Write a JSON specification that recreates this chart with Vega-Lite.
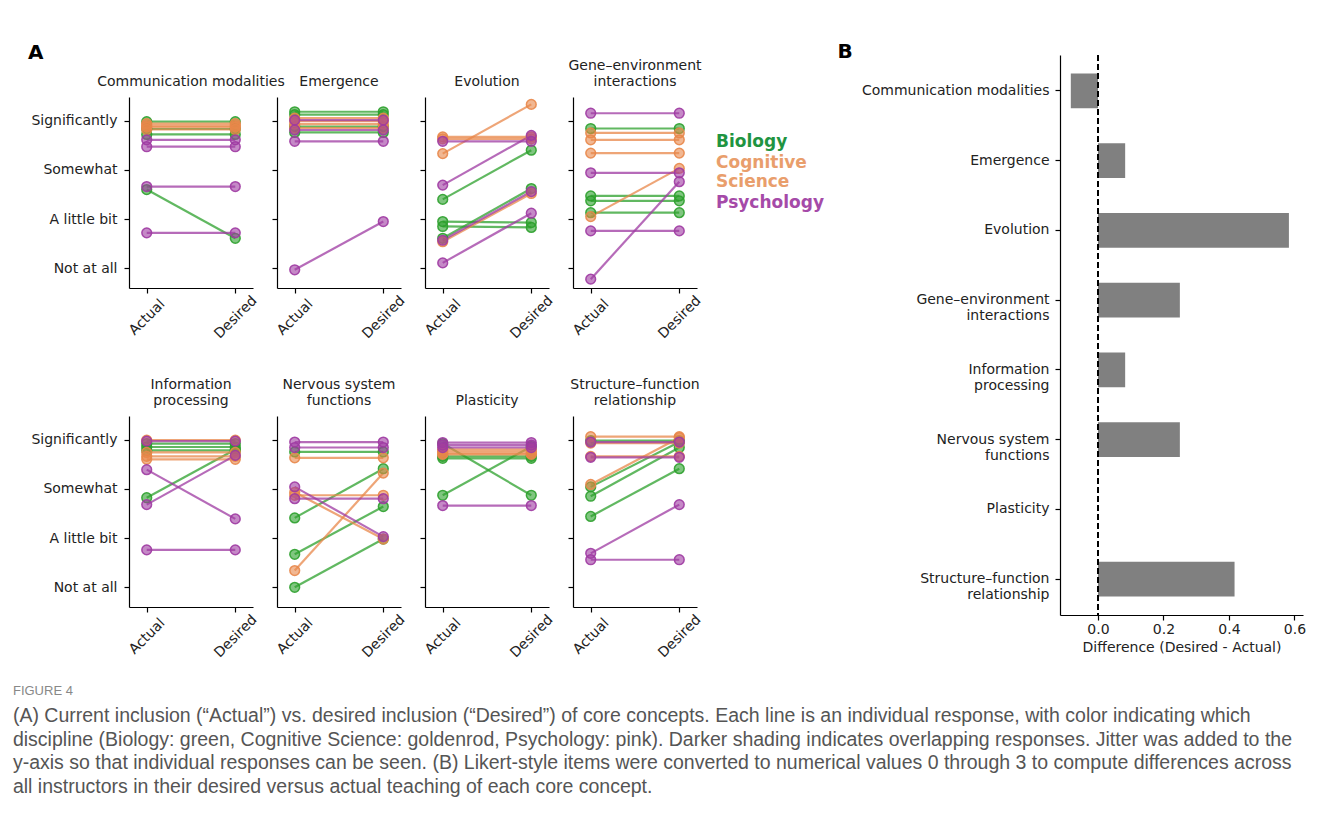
{
  "$schema": "https://vega.github.io/schema/vega-lite/v6.json",
  "padding": {"left": 12, "top": 42, "right": 5, "bottom": 5},
  "background": "white",
  "config": {
    "view": {"stroke": null},
    "font": "DejaVu Sans",
    "axis": {"grid": false, "domainColor": "#000", "domainWidth": 1.2, "tickColor": "#000", "tickWidth": 1.2, "tickSize": 5, "labelColor": "#222", "labelFontSize": 14, "labelFont": "DejaVu Sans", "titleFont": "DejaVu Sans", "titleFontSize": 14, "titleFontWeight": "normal", "titleColor": "#222"},
    "title": {"font": "DejaVu Sans", "fontSize": 14, "fontWeight": "normal", "color": "#222", "offset": 8, "lineHeight": 16}
  },
  "datasets": {
    "resp": [
      {"c": "Communication modalities", "d": "Biology", "id": 1, "Actual": 2.98, "Desired": 2.98},
      {"c": "Communication modalities", "d": "Biology", "id": 2, "Actual": 2.83, "Desired": 2.83},
      {"c": "Communication modalities", "d": "Biology", "id": 3, "Actual": 2.72, "Desired": 2.72},
      {"c": "Communication modalities", "d": "Biology", "id": 4, "Actual": 1.60, "Desired": 0.61},
      {"c": "Communication modalities", "d": "Cognitive Science", "id": 5, "Actual": 2.94, "Desired": 2.94},
      {"c": "Communication modalities", "d": "Cognitive Science", "id": 6, "Actual": 2.90, "Desired": 2.90},
      {"c": "Communication modalities", "d": "Cognitive Science", "id": 7, "Actual": 2.87, "Desired": 2.87},
      {"c": "Communication modalities", "d": "Cognitive Science", "id": 8, "Actual": 2.82, "Desired": 2.82},
      {"c": "Communication modalities", "d": "Psychology", "id": 9, "Actual": 2.61, "Desired": 2.61},
      {"c": "Communication modalities", "d": "Psychology", "id": 10, "Actual": 2.47, "Desired": 2.47},
      {"c": "Communication modalities", "d": "Psychology", "id": 11, "Actual": 1.66, "Desired": 1.66},
      {"c": "Communication modalities", "d": "Psychology", "id": 12, "Actual": 0.72, "Desired": 0.72},

      {"c": "Emergence", "d": "Biology", "id": 1, "Actual": 3.18, "Desired": 3.18},
      {"c": "Emergence", "d": "Biology", "id": 2, "Actual": 3.12, "Desired": 3.12},
      {"c": "Emergence", "d": "Biology", "id": 3, "Actual": 2.88, "Desired": 2.88},
      {"c": "Emergence", "d": "Biology", "id": 4, "Actual": 2.76, "Desired": 2.76},
      {"c": "Emergence", "d": "Cognitive Science", "id": 5, "Actual": 3.05, "Desired": 3.05},
      {"c": "Emergence", "d": "Cognitive Science", "id": 6, "Actual": 2.99, "Desired": 2.99},
      {"c": "Emergence", "d": "Cognitive Science", "id": 7, "Actual": 2.93, "Desired": 2.93},
      {"c": "Emergence", "d": "Cognitive Science", "id": 8, "Actual": 2.85, "Desired": 2.85},
      {"c": "Emergence", "d": "Psychology", "id": 9, "Actual": 3.01, "Desired": 3.01},
      {"c": "Emergence", "d": "Psychology", "id": 10, "Actual": 2.81, "Desired": 2.81},
      {"c": "Emergence", "d": "Psychology", "id": 11, "Actual": 2.58, "Desired": 2.58},
      {"c": "Emergence", "d": "Psychology", "id": 12, "Actual": -0.03, "Desired": 0.95},

      {"c": "Evolution", "d": "Biology", "id": 1, "Actual": 1.40, "Desired": 2.40},
      {"c": "Evolution", "d": "Biology", "id": 2, "Actual": 0.95, "Desired": 0.93},
      {"c": "Evolution", "d": "Biology", "id": 3, "Actual": 0.85, "Desired": 0.83},
      {"c": "Evolution", "d": "Biology", "id": 4, "Actual": 0.61, "Desired": 1.62},
      {"c": "Evolution", "d": "Cognitive Science", "id": 5, "Actual": 2.33, "Desired": 3.33},
      {"c": "Evolution", "d": "Cognitive Science", "id": 6, "Actual": 2.67, "Desired": 2.67},
      {"c": "Evolution", "d": "Cognitive Science", "id": 7, "Actual": 2.63, "Desired": 2.63},
      {"c": "Evolution", "d": "Cognitive Science", "id": 8, "Actual": 0.54, "Desired": 1.52},
      {"c": "Evolution", "d": "Psychology", "id": 9, "Actual": 2.58, "Desired": 2.58},
      {"c": "Evolution", "d": "Psychology", "id": 10, "Actual": 1.69, "Desired": 2.70},
      {"c": "Evolution", "d": "Psychology", "id": 11, "Actual": 0.57, "Desired": 1.56},
      {"c": "Evolution", "d": "Psychology", "id": 12, "Actual": 0.11, "Desired": 1.12},

      {"c": "Gene–environment interactions", "d": "Biology", "id": 1, "Actual": 2.84, "Desired": 2.84},
      {"c": "Gene–environment interactions", "d": "Biology", "id": 2, "Actual": 1.47, "Desired": 1.47},
      {"c": "Gene–environment interactions", "d": "Biology", "id": 3, "Actual": 1.37, "Desired": 1.37},
      {"c": "Gene–environment interactions", "d": "Biology", "id": 4, "Actual": 1.13, "Desired": 1.13},
      {"c": "Gene–environment interactions", "d": "Cognitive Science", "id": 5, "Actual": 2.75, "Desired": 2.75},
      {"c": "Gene–environment interactions", "d": "Cognitive Science", "id": 6, "Actual": 2.61, "Desired": 2.61},
      {"c": "Gene–environment interactions", "d": "Cognitive Science", "id": 7, "Actual": 2.34, "Desired": 2.34},
      {"c": "Gene–environment interactions", "d": "Cognitive Science", "id": 8, "Actual": 1.05, "Desired": 2.03},
      {"c": "Gene–environment interactions", "d": "Psychology", "id": 9, "Actual": 3.15, "Desired": 3.15},
      {"c": "Gene–environment interactions", "d": "Psychology", "id": 10, "Actual": 1.94, "Desired": 1.94},
      {"c": "Gene–environment interactions", "d": "Psychology", "id": 11, "Actual": 0.76, "Desired": 0.76},
      {"c": "Gene–environment interactions", "d": "Psychology", "id": 12, "Actual": -0.22, "Desired": 1.76},

      {"c": "Information processing", "d": "Biology", "id": 1, "Actual": 2.92, "Desired": 2.92},
      {"c": "Information processing", "d": "Biology", "id": 2, "Actual": 2.85, "Desired": 2.85},
      {"c": "Information processing", "d": "Biology", "id": 3, "Actual": 2.78, "Desired": 2.78},
      {"c": "Information processing", "d": "Biology", "id": 4, "Actual": 1.82, "Desired": 2.80},
      {"c": "Information processing", "d": "Cognitive Science", "id": 5, "Actual": 2.99, "Desired": 2.99},
      {"c": "Information processing", "d": "Cognitive Science", "id": 6, "Actual": 2.74, "Desired": 2.74},
      {"c": "Information processing", "d": "Cognitive Science", "id": 7, "Actual": 2.66, "Desired": 2.66},
      {"c": "Information processing", "d": "Cognitive Science", "id": 8, "Actual": 2.60, "Desired": 2.60},
      {"c": "Information processing", "d": "Psychology", "id": 9, "Actual": 2.97, "Desired": 2.97},
      {"c": "Information processing", "d": "Psychology", "id": 10, "Actual": 2.39, "Desired": 1.39},
      {"c": "Information processing", "d": "Psychology", "id": 11, "Actual": 1.68, "Desired": 2.68},
      {"c": "Information processing", "d": "Psychology", "id": 12, "Actual": 0.76, "Desired": 0.76},

      {"c": "Nervous system functions", "d": "Biology", "id": 1, "Actual": 2.75, "Desired": 2.75},
      {"c": "Nervous system functions", "d": "Biology", "id": 2, "Actual": 1.41, "Desired": 2.41},
      {"c": "Nervous system functions", "d": "Biology", "id": 3, "Actual": 0.67, "Desired": 1.64},
      {"c": "Nervous system functions", "d": "Biology", "id": 4, "Actual": 0.00, "Desired": 0.98},
      {"c": "Nervous system functions", "d": "Cognitive Science", "id": 5, "Actual": 2.63, "Desired": 2.63},
      {"c": "Nervous system functions", "d": "Cognitive Science", "id": 6, "Actual": 1.93, "Desired": 0.98},
      {"c": "Nervous system functions", "d": "Cognitive Science", "id": 7, "Actual": 1.87, "Desired": 1.87},
      {"c": "Nervous system functions", "d": "Cognitive Science", "id": 8, "Actual": 0.34, "Desired": 2.32},
      {"c": "Nervous system functions", "d": "Psychology", "id": 9, "Actual": 2.95, "Desired": 2.95},
      {"c": "Nervous system functions", "d": "Psychology", "id": 10, "Actual": 2.84, "Desired": 2.84},
      {"c": "Nervous system functions", "d": "Psychology", "id": 11, "Actual": 2.04, "Desired": 1.03},
      {"c": "Nervous system functions", "d": "Psychology", "id": 12, "Actual": 1.80, "Desired": 1.80},

      {"c": "Plasticity", "d": "Biology", "id": 1, "Actual": 2.92, "Desired": 1.87},
      {"c": "Plasticity", "d": "Biology", "id": 2, "Actual": 1.87, "Desired": 2.86},
      {"c": "Plasticity", "d": "Biology", "id": 3, "Actual": 2.62, "Desired": 2.62},
      {"c": "Plasticity", "d": "Biology", "id": 4, "Actual": 2.66, "Desired": 2.66},
      {"c": "Plasticity", "d": "Cognitive Science", "id": 5, "Actual": 2.80, "Desired": 2.80},
      {"c": "Plasticity", "d": "Cognitive Science", "id": 6, "Actual": 2.76, "Desired": 2.76},
      {"c": "Plasticity", "d": "Cognitive Science", "id": 7, "Actual": 2.72, "Desired": 2.72},
      {"c": "Plasticity", "d": "Cognitive Science", "id": 8, "Actual": 2.70, "Desired": 2.70},
      {"c": "Plasticity", "d": "Psychology", "id": 9, "Actual": 2.94, "Desired": 2.94},
      {"c": "Plasticity", "d": "Psychology", "id": 10, "Actual": 2.89, "Desired": 2.89},
      {"c": "Plasticity", "d": "Psychology", "id": 11, "Actual": 2.84, "Desired": 2.84},
      {"c": "Plasticity", "d": "Psychology", "id": 12, "Actual": 1.66, "Desired": 1.66},

      {"c": "Structure–function relationship", "d": "Biology", "id": 1, "Actual": 2.98, "Desired": 2.98},
      {"c": "Structure–function relationship", "d": "Biology", "id": 2, "Actual": 2.04, "Desired": 2.95},
      {"c": "Structure–function relationship", "d": "Biology", "id": 3, "Actual": 1.85, "Desired": 2.84},
      {"c": "Structure–function relationship", "d": "Biology", "id": 4, "Actual": 1.44, "Desired": 2.41},
      {"c": "Structure–function relationship", "d": "Cognitive Science", "id": 5, "Actual": 3.06, "Desired": 3.06},
      {"c": "Structure–function relationship", "d": "Cognitive Science", "id": 6, "Actual": 2.93, "Desired": 2.93},
      {"c": "Structure–function relationship", "d": "Cognitive Science", "id": 7, "Actual": 2.66, "Desired": 2.66},
      {"c": "Structure–function relationship", "d": "Cognitive Science", "id": 8, "Actual": 2.09, "Desired": 3.04},
      {"c": "Structure–function relationship", "d": "Psychology", "id": 9, "Actual": 2.95, "Desired": 2.95},
      {"c": "Structure–function relationship", "d": "Psychology", "id": 10, "Actual": 2.64, "Desired": 2.64},
      {"c": "Structure–function relationship", "d": "Psychology", "id": 11, "Actual": 0.69, "Desired": 1.68},
      {"c": "Structure–function relationship", "d": "Psychology", "id": 12, "Actual": 0.56, "Desired": 0.56}
    ],
    "diff": [
      {"c": "Communication modalities", "diff": -0.083},
      {"c": "Emergence", "diff": 0.083},
      {"c": "Evolution", "diff": 0.583},
      {"c": "Gene–environment interactions", "diff": 0.25},
      {"c": "Information processing", "diff": 0.083},
      {"c": "Nervous system functions", "diff": 0.25},
      {"c": "Plasticity", "diff": 0.0},
      {"c": "Structure–function relationship", "diff": 0.417}
    ]
  },
  "title": {
    "text": "FIGURE 4",
    "orient": "bottom",
    "anchor": "start",
    "frame": "bounds",
    "font": "Liberation Sans",
    "fontSize": 13,
    "fontWeight": "normal",
    "color": "#888",
    "offset": 25,
    "dx": -15,
    "subtitle": [
      "(A) Current inclusion (“Actual”) vs. desired inclusion (“Desired”) of core concepts. Each line is an individual response, with color indicating which",
      "discipline (Biology: green, Cognitive Science: goldenrod, Psychology: pink). Darker shading indicates overlapping responses. Jitter was added to the",
      "y-axis so that individual responses can be seen. (B) Likert-style items were converted to numerical values 0 through 3 to compute differences across",
      "all instructors in their desired versus actual teaching of each core concept."
    ],
    "subtitleFont": "Liberation Sans",
    "subtitleFontSize": 19.5,
    "subtitleColor": "#555",
    "subtitleLineHeight": 23.7,
    "subtitlePadding": 9
  },
  "spacing": 13,
  "hconcat": [
    {
      "title": {"text": "A", "anchor": "start", "frame": "bounds", "fontSize": 20, "fontWeight": "bold", "color": "#000", "offset": -8, "dx": -3},
      "spacing": 3,
      "vconcat": [
        {"width": 1, "height": 1, "data": {"values": []}, "mark": "point"},
        {
          "spacing": 37,
          "vconcat": [
            {
              "bounds": "flush",
              "spacing": 24,
              "resolve": {"legend": {"color": "independent", "stroke": "independent"}},
              "hconcat": [
                {
                  "width": 124, "height": 191,
                  "title": "Communication modalities",
                  "data": {"name": "resp"},
                  "transform": [{"filter": "datum.c == 'Communication modalities'"}, {"fold": ["Actual", "Desired"], "as": ["t", "v"]}],
                  "encoding": {
                    "x": {"field": "t", "type": "nominal", "scale": {"type": "point", "padding": 0.2, "domain": ["Actual", "Desired"]}, "axis": {"title": null, "labelAngle": -45, "labelAlign": "center", "labelBaseline": "middle", "labelPadding": 24}},
                    "y": {"field": "v", "type": "quantitative", "scale": {"domain": [-0.4, 3.48], "nice": false, "zero": false}, "axis": {"title": null, "values": [0, 1, 2, 3], "labelExpr": "['Not at all','A little bit','Somewhat','Significantly'][datum.value]", "labelPadding": 7}},
                    "color": {"field": "d", "type": "nominal", "scale": {"domain": ["Biology", "Cognitive Science", "Psychology"], "range": ["#2ca02c", "#e8874a", "#9e3aa2"]}, "legend": null},
                    "detail": {"field": "id", "type": "nominal"}
                  },
                  "layer": [
                    {"mark": {"type": "line", "strokeWidth": 2.2, "opacity": 0.75}},
                    {"mark": {"type": "circle", "size": 95, "fillOpacity": 0.6, "strokeOpacity": 0.9, "strokeWidth": 1.5}, "encoding": {"stroke": {"field": "d", "type": "nominal", "scale": {"domain": ["Biology", "Cognitive Science", "Psychology"], "range": ["#2ca02c", "#e8874a", "#9e3aa2"]}, "legend": null}}}
                  ]
                },
                {
                  "width": 124, "height": 191,
                  "title": "Emergence",
                  "data": {"name": "resp"},
                  "transform": [{"filter": "datum.c == 'Emergence'"}, {"fold": ["Actual", "Desired"], "as": ["t", "v"]}],
                  "encoding": {
                    "x": {"field": "t", "type": "nominal", "scale": {"type": "point", "padding": 0.2, "domain": ["Actual", "Desired"]}, "axis": {"title": null, "labelAngle": -45, "labelAlign": "center", "labelBaseline": "middle", "labelPadding": 24}},
                    "y": {"field": "v", "type": "quantitative", "scale": {"domain": [-0.4, 3.48], "nice": false, "zero": false}, "axis": {"title": null, "values": [0, 1, 2, 3], "labels": false}},
                    "color": {"field": "d", "type": "nominal", "scale": {"domain": ["Biology", "Cognitive Science", "Psychology"], "range": ["#2ca02c", "#e8874a", "#9e3aa2"]}, "legend": null},
                    "detail": {"field": "id", "type": "nominal"}
                  },
                  "layer": [
                    {"mark": {"type": "line", "strokeWidth": 2.2, "opacity": 0.75}},
                    {"mark": {"type": "circle", "size": 95, "fillOpacity": 0.6, "strokeOpacity": 0.9, "strokeWidth": 1.5}, "encoding": {"stroke": {"field": "d", "type": "nominal", "scale": {"domain": ["Biology", "Cognitive Science", "Psychology"], "range": ["#2ca02c", "#e8874a", "#9e3aa2"]}, "legend": null}}}
                  ]
                },
                {
                  "width": 124, "height": 191,
                  "title": "Evolution",
                  "data": {"name": "resp"},
                  "transform": [{"filter": "datum.c == 'Evolution'"}, {"fold": ["Actual", "Desired"], "as": ["t", "v"]}],
                  "encoding": {
                    "x": {"field": "t", "type": "nominal", "scale": {"type": "point", "padding": 0.2, "domain": ["Actual", "Desired"]}, "axis": {"title": null, "labelAngle": -45, "labelAlign": "center", "labelBaseline": "middle", "labelPadding": 24}},
                    "y": {"field": "v", "type": "quantitative", "scale": {"domain": [-0.4, 3.48], "nice": false, "zero": false}, "axis": {"title": null, "values": [0, 1, 2, 3], "labels": false}},
                    "color": {"field": "d", "type": "nominal", "scale": {"domain": ["Biology", "Cognitive Science", "Psychology"], "range": ["#2ca02c", "#e8874a", "#9e3aa2"]}, "legend": null},
                    "detail": {"field": "id", "type": "nominal"}
                  },
                  "layer": [
                    {"mark": {"type": "line", "strokeWidth": 2.2, "opacity": 0.75}},
                    {"mark": {"type": "circle", "size": 95, "fillOpacity": 0.6, "strokeOpacity": 0.9, "strokeWidth": 1.5}, "encoding": {"stroke": {"field": "d", "type": "nominal", "scale": {"domain": ["Biology", "Cognitive Science", "Psychology"], "range": ["#2ca02c", "#e8874a", "#9e3aa2"]}, "legend": null}}}
                  ]
                },
                {
                  "width": 124, "height": 191,
                  "title": {"text": ["Gene–environment", "interactions"]},
                  "data": {"name": "resp"},
                  "transform": [{"filter": "datum.c == 'Gene–environment interactions'"}, {"fold": ["Actual", "Desired"], "as": ["t", "v"]}],
                  "encoding": {
                    "x": {"field": "t", "type": "nominal", "scale": {"type": "point", "padding": 0.2, "domain": ["Actual", "Desired"]}, "axis": {"title": null, "labelAngle": -45, "labelAlign": "center", "labelBaseline": "middle", "labelPadding": 24}},
                    "y": {"field": "v", "type": "quantitative", "scale": {"domain": [-0.4, 3.48], "nice": false, "zero": false}, "axis": {"title": null, "values": [0, 1, 2, 3], "labels": false}},
                    "color": {"field": "d", "type": "nominal", "scale": {"domain": ["Biology", "Cognitive Science", "Psychology"], "range": ["#2ca02c", "#e8874a", "#9e3aa2"]},
                      "legend": {"title": " ", "titleFontSize": 10, "titlePadding": 26, "orient": "right", "offset": 2, "padding": 0, "symbolSize": 0, "symbolOpacity": 0, "symbolStrokeWidth": 0, "labelOffset": 0, "labelFontSize": 17, "labelFontWeight": "bold", "labelFont": "DejaVu Sans", "rowPadding": 3, "labelExpr": "datum.label == 'Cognitive Science' ? ['Cognitive', 'Science'] : datum.label",
                        "encode": {"labels": {"update": {"fill": {"signal": "datum.value == 'Biology' ? '#1f9441' : datum.value == 'Psychology' ? '#a54aa8' : '#e99e6c'"}}}}}},
                    "detail": {"field": "id", "type": "nominal"}
                  },
                  "layer": [
                    {"mark": {"type": "line", "strokeWidth": 2.2, "opacity": 0.75}},
                    {"mark": {"type": "circle", "size": 95, "fillOpacity": 0.6, "strokeOpacity": 0.9, "strokeWidth": 1.5}, "encoding": {"stroke": {"field": "d", "type": "nominal", "scale": {"domain": ["Biology", "Cognitive Science", "Psychology"], "range": ["#2ca02c", "#e8874a", "#9e3aa2"]}, "legend": null}}}
                  ]
                }
              ]
            },
            {
              "bounds": "flush",
              "spacing": 24,
              "hconcat": [
                {
                  "width": 124, "height": 191,
                  "title": {"text": ["Information", "processing"]},
                  "data": {"name": "resp"},
                  "transform": [{"filter": "datum.c == 'Information processing'"}, {"fold": ["Actual", "Desired"], "as": ["t", "v"]}],
                  "encoding": {
                    "x": {"field": "t", "type": "nominal", "scale": {"type": "point", "padding": 0.2, "domain": ["Actual", "Desired"]}, "axis": {"title": null, "labelAngle": -45, "labelAlign": "center", "labelBaseline": "middle", "labelPadding": 24}},
                    "y": {"field": "v", "type": "quantitative", "scale": {"domain": [-0.4, 3.48], "nice": false, "zero": false}, "axis": {"title": null, "values": [0, 1, 2, 3], "labelExpr": "['Not at all','A little bit','Somewhat','Significantly'][datum.value]", "labelPadding": 7}},
                    "color": {"field": "d", "type": "nominal", "scale": {"domain": ["Biology", "Cognitive Science", "Psychology"], "range": ["#2ca02c", "#e8874a", "#9e3aa2"]}, "legend": null},
                    "detail": {"field": "id", "type": "nominal"}
                  },
                  "layer": [
                    {"mark": {"type": "line", "strokeWidth": 2.2, "opacity": 0.75}},
                    {"mark": {"type": "circle", "size": 95, "fillOpacity": 0.6, "strokeOpacity": 0.9, "strokeWidth": 1.5}, "encoding": {"stroke": {"field": "d", "type": "nominal", "scale": {"domain": ["Biology", "Cognitive Science", "Psychology"], "range": ["#2ca02c", "#e8874a", "#9e3aa2"]}, "legend": null}}}
                  ]
                },
                {
                  "width": 124, "height": 191,
                  "title": {"text": ["Nervous system", "functions"]},
                  "data": {"name": "resp"},
                  "transform": [{"filter": "datum.c == 'Nervous system functions'"}, {"fold": ["Actual", "Desired"], "as": ["t", "v"]}],
                  "encoding": {
                    "x": {"field": "t", "type": "nominal", "scale": {"type": "point", "padding": 0.2, "domain": ["Actual", "Desired"]}, "axis": {"title": null, "labelAngle": -45, "labelAlign": "center", "labelBaseline": "middle", "labelPadding": 24}},
                    "y": {"field": "v", "type": "quantitative", "scale": {"domain": [-0.4, 3.48], "nice": false, "zero": false}, "axis": {"title": null, "values": [0, 1, 2, 3], "labels": false}},
                    "color": {"field": "d", "type": "nominal", "scale": {"domain": ["Biology", "Cognitive Science", "Psychology"], "range": ["#2ca02c", "#e8874a", "#9e3aa2"]}, "legend": null},
                    "detail": {"field": "id", "type": "nominal"}
                  },
                  "layer": [
                    {"mark": {"type": "line", "strokeWidth": 2.2, "opacity": 0.75}},
                    {"mark": {"type": "circle", "size": 95, "fillOpacity": 0.6, "strokeOpacity": 0.9, "strokeWidth": 1.5}, "encoding": {"stroke": {"field": "d", "type": "nominal", "scale": {"domain": ["Biology", "Cognitive Science", "Psychology"], "range": ["#2ca02c", "#e8874a", "#9e3aa2"]}, "legend": null}}}
                  ]
                },
                {
                  "width": 124, "height": 191,
                  "title": "Plasticity",
                  "data": {"name": "resp"},
                  "transform": [{"filter": "datum.c == 'Plasticity'"}, {"fold": ["Actual", "Desired"], "as": ["t", "v"]}],
                  "encoding": {
                    "x": {"field": "t", "type": "nominal", "scale": {"type": "point", "padding": 0.2, "domain": ["Actual", "Desired"]}, "axis": {"title": null, "labelAngle": -45, "labelAlign": "center", "labelBaseline": "middle", "labelPadding": 24}},
                    "y": {"field": "v", "type": "quantitative", "scale": {"domain": [-0.4, 3.48], "nice": false, "zero": false}, "axis": {"title": null, "values": [0, 1, 2, 3], "labels": false}},
                    "color": {"field": "d", "type": "nominal", "scale": {"domain": ["Biology", "Cognitive Science", "Psychology"], "range": ["#2ca02c", "#e8874a", "#9e3aa2"]}, "legend": null},
                    "detail": {"field": "id", "type": "nominal"}
                  },
                  "layer": [
                    {"mark": {"type": "line", "strokeWidth": 2.2, "opacity": 0.75}},
                    {"mark": {"type": "circle", "size": 95, "fillOpacity": 0.6, "strokeOpacity": 0.9, "strokeWidth": 1.5}, "encoding": {"stroke": {"field": "d", "type": "nominal", "scale": {"domain": ["Biology", "Cognitive Science", "Psychology"], "range": ["#2ca02c", "#e8874a", "#9e3aa2"]}, "legend": null}}}
                  ]
                },
                {
                  "width": 124, "height": 191,
                  "title": {"text": ["Structure–function", "relationship"]},
                  "data": {"name": "resp"},
                  "transform": [{"filter": "datum.c == 'Structure–function relationship'"}, {"fold": ["Actual", "Desired"], "as": ["t", "v"]}],
                  "encoding": {
                    "x": {"field": "t", "type": "nominal", "scale": {"type": "point", "padding": 0.2, "domain": ["Actual", "Desired"]}, "axis": {"title": null, "labelAngle": -45, "labelAlign": "center", "labelBaseline": "middle", "labelPadding": 24}},
                    "y": {"field": "v", "type": "quantitative", "scale": {"domain": [-0.4, 3.48], "nice": false, "zero": false}, "axis": {"title": null, "values": [0, 1, 2, 3], "labels": false}},
                    "color": {"field": "d", "type": "nominal", "scale": {"domain": ["Biology", "Cognitive Science", "Psychology"], "range": ["#2ca02c", "#e8874a", "#9e3aa2"]}, "legend": null},
                    "detail": {"field": "id", "type": "nominal"}
                  },
                  "layer": [
                    {"mark": {"type": "line", "strokeWidth": 2.2, "opacity": 0.75}},
                    {"mark": {"type": "circle", "size": 95, "fillOpacity": 0.6, "strokeOpacity": 0.9, "strokeWidth": 1.5}, "encoding": {"stroke": {"field": "d", "type": "nominal", "scale": {"domain": ["Biology", "Cognitive Science", "Psychology"], "range": ["#2ca02c", "#e8874a", "#9e3aa2"]}, "legend": null}}}
                  ]
                }
              ]
            }
          ]
        }
      ]
    },
    {
      "width": 243,
      "height": 560,
      "title": {"text": "B", "anchor": "start", "frame": "bounds", "fontSize": 20, "fontWeight": "bold", "color": "#000", "dx": -24, "offset": -8},
      "data": {"name": "diff"},
      "layer": [
        {
          "mark": {"type": "bar", "color": "#808080"},
          "encoding": {
            "y": {"field": "c", "type": "nominal", "sort": null, "scale": {"paddingInner": 0.5, "paddingOuter": 0.265},
              "axis": {"title": null, "labelPadding": 6, "labelLimit": 300, "labelExpr": "datum.value == 'Gene–environment interactions' ? ['Gene–environment', 'interactions'] : datum.value == 'Information processing' ? ['Information', 'processing'] : datum.value == 'Nervous system functions' ? ['Nervous system', 'functions'] : datum.value == 'Structure–function relationship' ? ['Structure–function', 'relationship'] : datum.value", "labelLineHeight": 16}},
            "x": {"field": "diff", "type": "quantitative", "scale": {"domain": [-0.116, 0.626], "nice": false}, "axis": {"values": [0, 0.2, 0.4, 0.6], "format": ".1f", "title": "Difference (Desired - Actual)", "titlePadding": 4}}
          }
        },
        {
          "mark": {"type": "rule", "strokeDash": [6, 3], "color": "#000", "strokeWidth": 1.8},
          "encoding": {"x": {"datum": 0}}
        }
      ]
    }
  ]
}
